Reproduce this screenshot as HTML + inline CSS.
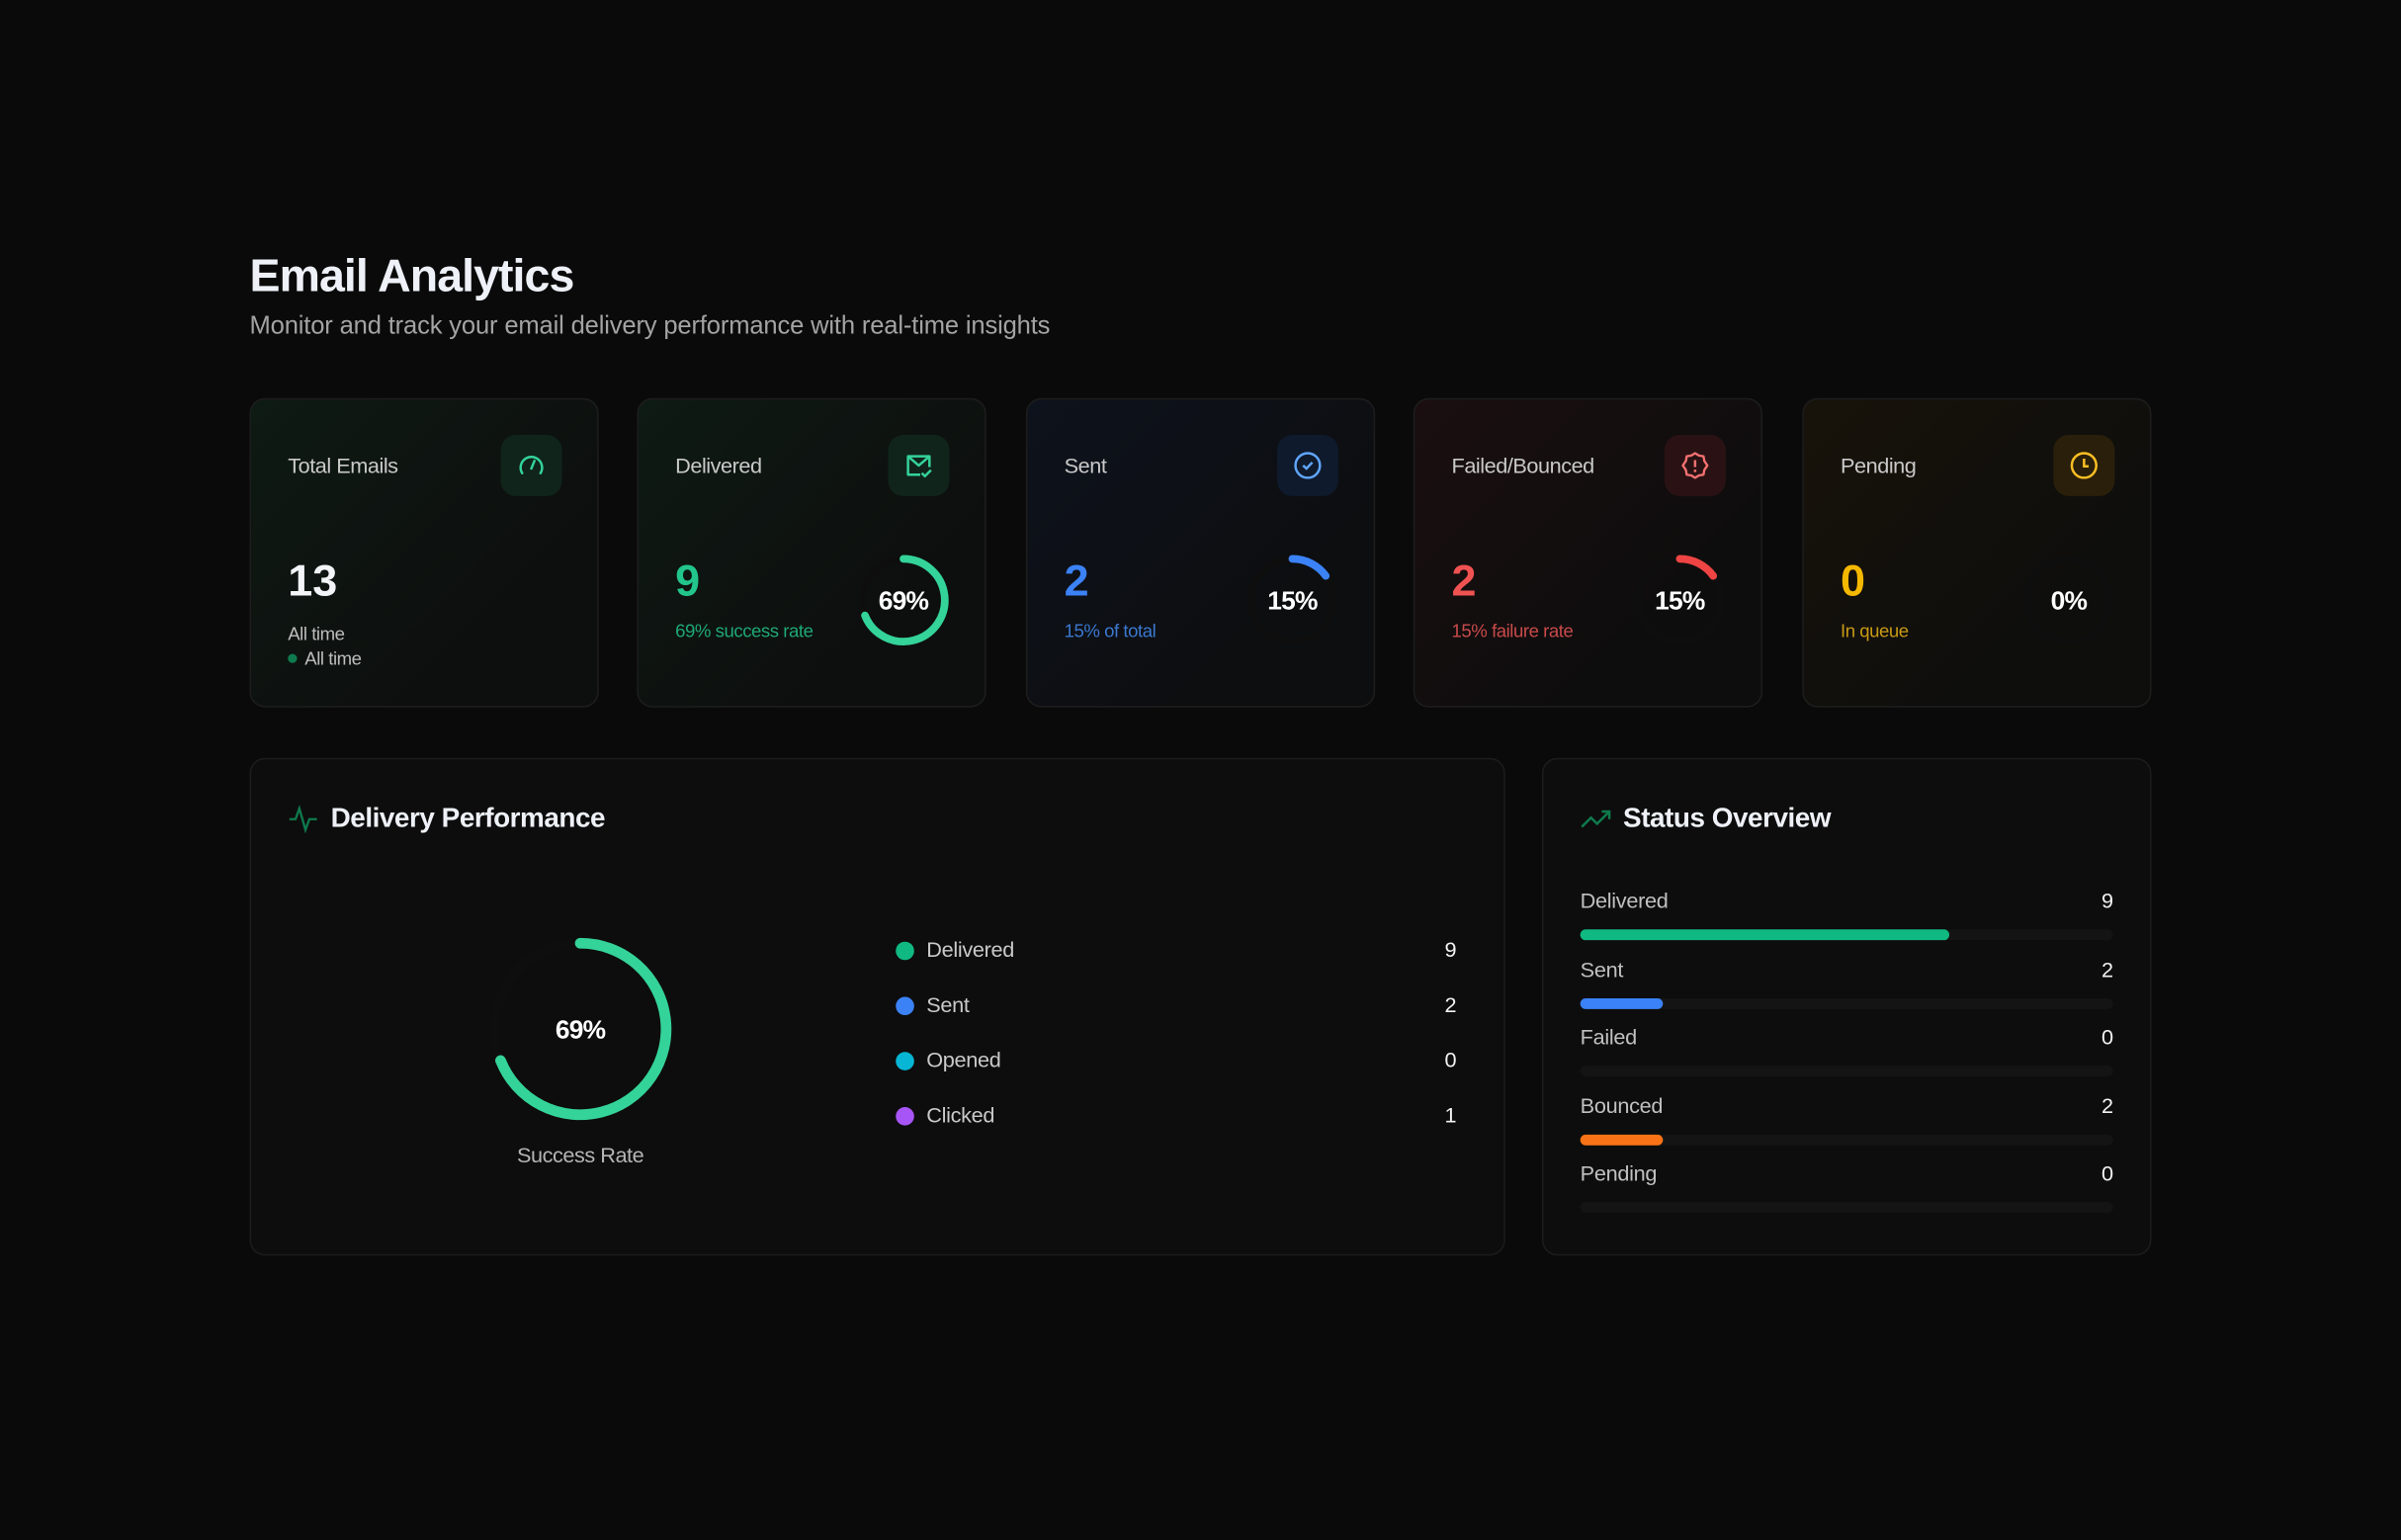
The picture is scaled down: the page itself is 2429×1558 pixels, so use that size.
<!DOCTYPE html>
<html><head><meta charset="utf-8">
<style>
html,body{margin:0;padding:0;background:#0a0a0a;width:2429px;height:1558px;overflow:hidden}
#root{position:absolute;left:0;top:0;width:1568px;height:1006px;transform:scale(1.54911);transform-origin:0 0;font-family:"Liberation Sans",sans-serif;color:#e8ecf3}
.abs{position:absolute}
.title{left:163px;top:164px;font-size:30px;font-weight:bold;letter-spacing:-0.6px;color:#eef1f7}
.sub{left:163px;top:204px;font-size:16.5px;color:#a3a3a3;letter-spacing:-0.1px}
.card{position:absolute;top:260px;width:228px;height:202px;border:1px solid #1d1d1d;border-radius:10px;box-sizing:border-box}
.lbl{position:absolute;left:24px;top:35px;font-size:14px;color:#c9c9c9;letter-spacing:-0.3px}
.ibox{position:absolute;left:163px;top:23px;width:40px;height:40px;border-radius:10px}
.ibox svg{position:absolute;left:10px;top:10px}
.big{position:absolute;left:24px;top:103px;font-size:29px;font-weight:bold}
.small{position:absolute;left:24px;top:144px;font-size:12px;letter-spacing:-0.3px}
.panel{position:absolute;top:495px;height:325px;border:1px solid #1c1c1c;border-radius:10px;background:#0d0d0d;box-sizing:border-box}
.ph{position:absolute;left:52px;top:28px;font-size:18px;font-weight:bold;color:#eef1f7;letter-spacing:-0.3px}
</style></head><body>
<div id="root">
<div class="abs title">Email Analytics</div>
<div class="abs sub">Monitor and track your email delivery performance with real-time insights</div>

<div class="card" style="left:163px;background:linear-gradient(135deg,#0e1a14,#0d0f0e 70%)">
 <div class="lbl">Total Emails</div>
 <div class="ibox" style="background:#10241b"><svg width="20" height="20" viewBox="0 0 20 20"><path d="M4 15 A7 7 0 1 1 16 15" fill="none" stroke="#34d399" stroke-width="1.6" stroke-linecap="round"/><path d="M10 12 L12 7" stroke="#34d399" stroke-width="1.6" stroke-linecap="round"/></svg></div>
 <div class="big" style="color:#f2f4f8">13</div>
 <div class="small" style="top:146px;color:#bdbdbd">All time</div>
 <div class="small" style="top:162px;left:24px;color:#bdbdbd"><span style="display:inline-block;width:6px;height:6px;border-radius:3px;background:#0f7a4d;margin-right:5px;vertical-align:1px"></span>All time</div>
</div>

<div class="card" style="left:416px;background:linear-gradient(135deg,#0e1a14,#0d0f0e 70%)">
 <div class="lbl">Delivered</div>
 <div class="ibox" style="background:#10241b"><svg width="20" height="20" viewBox="0 0 20 20"><path d="M11 16 H3 V4 H17 V11 M3 4 L10 10 L17 4 M12 15 L14 17 L18 13" fill="none" stroke="#34d399" stroke-width="1.6" stroke-linejoin="round"/></svg></div>
 <div class="big" style="color:#22c58b">9</div>
 <div class="small" style="color:#1fa877">69% success rate</div>
 <svg class="abs" id="ring-delivered" style="left:0;top:0" width="228" height="202"></svg>
</div>

<div class="card" style="left:670px;background:linear-gradient(135deg,#0d121c,#0d0e10 70%)">
 <div class="lbl">Sent</div>
 <div class="ibox" style="background:#0f1a2c"><svg width="20" height="20" viewBox="0 0 20 20"><circle cx="10" cy="10" r="8" fill="none" stroke="#60a5fa" stroke-width="1.6"/><path d="M7 10 L9.2 12 L13 8" fill="none" stroke="#60a5fa" stroke-width="1.6"/></svg></div>
 <div class="big" style="color:#3b82f6">2</div>
 <div class="small" style="color:#3b78d0">15% of total</div>
 <svg class="abs" id="ring-sent" style="left:0;top:0" width="228" height="202"></svg>
</div>

<div class="card" style="left:923px;background:linear-gradient(135deg,#1a0e10,#0e0d0d 70%)">
 <div class="lbl">Failed/Bounced</div>
 <div class="ibox" style="background:#2a1214"><svg width="20" height="20" viewBox="0 0 20 20"><path d="M10 2 L12.5 3.5 L15.5 4 L16 7 L18 10 L16 13 L15.5 16 L12.5 16.5 L10 18 L7.5 16.5 L4.5 16 L4 13 L2 10 L4 7 L4.5 4 L7.5 3.5 Z" fill="none" stroke="#f87171" stroke-width="1.5" stroke-linejoin="round"/><path d="M10 6.5 V11" stroke="#f87171" stroke-width="1.6"/><circle cx="10" cy="13.5" r="0.9" fill="#f87171"/></svg></div>
 <div class="big" style="color:#f05252">2</div>
 <div class="small" style="color:#c94a4a">15% failure rate</div>
 <svg class="abs" id="ring-failed" style="left:0;top:0" width="228" height="202"></svg>
</div>

<div class="card" style="left:1177px;background:linear-gradient(135deg,#18130a,#0e0e0d 70%)">
 <div class="lbl">Pending</div>
 <div class="ibox" style="background:#2a1f0a"><svg width="20" height="20" viewBox="0 0 20 20"><circle cx="10" cy="10" r="8" fill="none" stroke="#fbbf24" stroke-width="1.6"/><path d="M10 5.5 V10.5 H13" fill="none" stroke="#fbbf24" stroke-width="1.6"/></svg></div>
 <div class="big" style="color:#f5b800">0</div>
 <div class="small" style="color:#c99a16">In queue</div>
 <svg class="abs" id="ring-pending" style="left:0;top:0" width="228" height="202"></svg>
</div>

<div class="panel" style="left:163px;width:820px">
 <svg class="abs" style="left:24px;top:29px" width="20" height="20" viewBox="0 0 20 20"><path d="M1 10 H5 L7.5 3 L11.5 17 L14 10 H19" fill="none" stroke="#0f7a4d" stroke-width="1.5"/></svg>
 <div class="ph">Delivery Performance</div>
 <svg class="abs" id="big-donut" style="left:0;top:0" width="820" height="325"></svg>
 <div class="abs" style="left:0;width:430px;text-align:center;top:250px;font-size:14px;color:#b5b5b5;letter-spacing:-0.3px">Success Rate</div>
 <div id="legend"></div>
</div>

<div class="panel" style="left:1007px;width:398px">
 <svg class="abs" style="left:24px;top:29px" width="22" height="20" viewBox="0 0 22 20"><path d="M1 15 L7 9 L11 13 L19 5 M14 5 H19 V10" fill="none" stroke="#0f7a4d" stroke-width="1.6"/></svg>
 <div class="ph">Status Overview</div>
 <div id="status"></div>
</div>
</div>
<script>
const total = 13;
const ringNames = ["ring-delivered","ring-sent","ring-failed","ring-pending"];
const ringPercents = [69, 15, 15, 0];
const ringColors = ["#34d399","#3b82f6","#ef4444","#f5b800"];
const legendLabels = ["Delivered","Sent","Opened","Clicked"];
const legendValues = [9, 2, 0, 1];
const legendColors = ["#10b981","#3b82f6","#06b6d4","#a855f7"];
const statusLabels = ["Delivered","Sent","Failed","Bounced","Pending"];
const statusValues = [9, 2, 0, 2, 0];
const statusColors = ["#10b981","#3b82f6","#ef4444","#f97316","#f5b800"];
const successRate = 69;

const NS = "http://www.w3.org/2000/svg";
function arcPath(cx, cy, r, pct) {
  if (pct <= 0) return "";
  const p = Math.min(pct, 99.99) / 100;
  const a = p * 2 * Math.PI;
  const x = cx + r * Math.sin(a), y = cy - r * Math.cos(a);
  return "M" + cx + " " + (cy - r) + " A" + r + " " + r + " 0 " + (p > 0.5 ? 1 : 0) + " 1 " + x + " " + y;
}
function ring(svg, cx, cy, r, w, pct, color, name) {
  const t = document.createElementNS(NS, "circle");
  t.setAttribute("cx", cx); t.setAttribute("cy", cy); t.setAttribute("r", r);
  t.setAttribute("fill", "none"); t.setAttribute("stroke", "#0e0e0e"); t.setAttribute("stroke-width", w);
  
  
  svg.appendChild(t);
  const p = document.createElementNS(NS, "path");
  p.setAttribute("d", arcPath(cx, cy, r, pct));
  p.setAttribute("fill", "none"); p.setAttribute("stroke", color); p.setAttribute("stroke-width", w);
  p.setAttribute("stroke-linecap", "round");
  
  
  svg.appendChild(p);
  const tx = document.createElementNS(NS, "text");
  tx.setAttribute("x", cx); tx.setAttribute("y", cy + 6);
  tx.setAttribute("text-anchor", "middle"); tx.setAttribute("fill", "#fff");
  tx.setAttribute("font-size", "17"); tx.setAttribute("font-weight", "bold");
  tx.setAttribute("letter-spacing", "-0.5");
  tx.setAttribute("font-family", "Liberation Sans, sans-serif");
  tx.textContent = pct + "%";
  
  
  svg.appendChild(tx);
}
ringNames.forEach((id, i) => {
  const svg = document.getElementById(id);
  
  
  ring(svg, 173, 131, 27, 5, ringPercents[i], ringColors[i], id);
});
const bd = document.getElementById("big-donut");


ring(bd, 215, 176, 56, 7, successRate, "#34d399", "success-rate-donut");

const lg = document.getElementById("legend");
legendLabels.forEach((lab, i) => {
  const row = document.createElement("div");
  row.className = "abs";
  row.style.cssText = "left:421px;width:366px;top:" + (115 + i * 36) + "px;height:20px;font-size:14px;color:#c9c9c9;letter-spacing:-0.2px";
  
  
  row.innerHTML = '<span style="position:absolute;left:0;top:4px;width:12px;height:12px;border-radius:6px;background:' + legendColors[i] + '"></span><span style="position:absolute;left:20px;top:1px">' + lab + '</span><span style="position:absolute;right:0;top:1px;color:#f2f2f2">' + legendValues[i] + '</span>';
  lg.appendChild(row);
});

const st = document.getElementById("status");
const barW = 348;
statusLabels.forEach((lab, i) => {
  const top = 84 + i * 44.5;
  const row = document.createElement("div");
  row.className = "abs";
  row.style.cssText = "left:24px;width:" + barW + "px;top:" + top + "px;height:40px;font-size:14px;color:#c0c0c0;letter-spacing:-0.2px";
  
  
  const w = statusValues[i] / total * barW;
  row.innerHTML = '<span style="position:absolute;left:0;top:0">' + lab + '</span><span style="position:absolute;right:0;top:0;color:#f2f2f2">' + statusValues[i] + '</span>' +
    '<div style="position:absolute;left:0;top:27px;width:' + barW + 'px;height:7px;border-radius:4px;background:#141414"></div>' +
    '<div style="position:absolute;left:0;top:27px;width:' + w + 'px;height:7px;border-radius:4px;background:' + statusColors[i] + '"></div>';
  st.appendChild(row);
});
</script>
</body></html>
